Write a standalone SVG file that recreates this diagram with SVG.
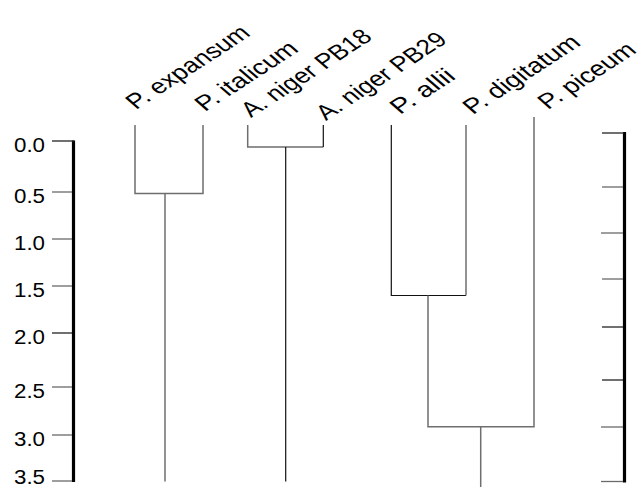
<svg xmlns="http://www.w3.org/2000/svg" width="639" height="487" viewBox="0 0 639 487">
<style>
.g{stroke:#6e6e6e;stroke-width:1.5;fill:none}
.b{stroke:#111;stroke-width:1.2;fill:none}
.ax{stroke:#000;stroke-width:3.2;fill:none}
.t{stroke:#6a6a6a;stroke-width:1.3}
.lab{font-family:"Liberation Sans",Arial,sans-serif;font-size:23.5px;fill:#000}
.num{font-family:"Liberation Sans",Arial,sans-serif;font-size:19.5px;fill:#000}
</style>
<rect width="639" height="487" fill="#fff"/>
<g id="left-axis">
<line class="ax" x1="73.5" y1="140.5" x2="73.5" y2="482"/>
<line class="t" x1="52" y1="141" x2="74" y2="141" style="stroke:#222"/>
<line class="t" x1="52" y1="192" x2="72" y2="192"/>
<line class="t" x1="52" y1="239" x2="72" y2="239"/>
<line class="t" x1="52" y1="286" x2="72" y2="286"/>
<line class="t" x1="52" y1="333" x2="72" y2="333" style="stroke:#222"/>
<line class="t" x1="52" y1="387" x2="72" y2="387"/>
<line class="t" x1="52" y1="435" x2="72" y2="435"/>
<line class="t" x1="52" y1="481" x2="72" y2="481"/>
<text class="num" x="14" y="152" textLength="31" lengthAdjust="spacingAndGlyphs">0.0</text>
<text class="num" x="14" y="203" textLength="31" lengthAdjust="spacingAndGlyphs">0.5</text>
<text class="num" x="14" y="250" textLength="31" lengthAdjust="spacingAndGlyphs">1.0</text>
<text class="num" x="14" y="297" textLength="31" lengthAdjust="spacingAndGlyphs">1.5</text>
<text class="num" x="14" y="344" textLength="31" lengthAdjust="spacingAndGlyphs">2.0</text>
<text class="num" x="14" y="398" textLength="31" lengthAdjust="spacingAndGlyphs">2.5</text>
<text class="num" x="14" y="446" textLength="31" lengthAdjust="spacingAndGlyphs">3.0</text>
<text class="num" x="14" y="484" textLength="31" lengthAdjust="spacingAndGlyphs">3.5</text>
</g>
<g id="right-axis">
<line class="ax" x1="624.5" y1="132" x2="624.5" y2="482.5"/>
<line class="t" x1="602" y1="133" x2="624" y2="133" style="stroke:#222"/>
<line class="t" x1="602" y1="187" x2="623" y2="187"/>
<line class="t" x1="601" y1="233" x2="623" y2="233"/>
<line class="t" x1="602" y1="279" x2="623" y2="279"/>
<line class="t" x1="602" y1="327" x2="623" y2="327" style="stroke:#222"/>
<line class="t" x1="602" y1="380" x2="623" y2="380" style="stroke:#222"/>
<line class="t" x1="601" y1="427" x2="623" y2="427"/>
<line class="t" x1="601" y1="481.5" x2="623" y2="481.5"/>
</g>
<g id="labels">
<text id="n-expansum" class="lab" transform="translate(136,110) rotate(-33) skewX(16)" textLength="138" lengthAdjust="spacingAndGlyphs">P. expansum</text>
<text id="n-italicum" class="lab" transform="translate(205,112) rotate(-33) skewX(16)" textLength="113" lengthAdjust="spacingAndGlyphs">P. italicum</text>
<text id="n-pb18" class="lab" transform="translate(251,118) rotate(-33) skewX(16)" textLength="146" lengthAdjust="spacingAndGlyphs">A. niger PB18</text>
<text id="n-pb29" class="lab" transform="translate(326,121) rotate(-33) skewX(16)" textLength="146" lengthAdjust="spacingAndGlyphs">A. niger PB29</text>
<text id="n-allii" class="lab" transform="translate(400,115) rotate(-33) skewX(16)" textLength="68" lengthAdjust="spacingAndGlyphs">P. allii</text>
<text id="n-digitatum" class="lab" transform="translate(473,115) rotate(-33) skewX(16)" textLength="130" lengthAdjust="spacingAndGlyphs">P. digitatum</text>
<text id="n-piceum" class="lab" transform="translate(548,110) rotate(-33) skewX(16)" textLength="107" lengthAdjust="spacingAndGlyphs">P. piceum</text>
</g>
<g id="connectors">
<polyline class="g" points="135,125 135,193.5 203,193.5 203,125"/>
<line class="g" x1="165" y1="193.5" x2="165" y2="481.5"/>
<polyline class="g" points="247.7,125 247.7,147 323.3,147"/>
<line class="b" x1="323.3" y1="125" x2="323.3" y2="147"/>
<line class="b" x1="285.7" y1="147" x2="285.7" y2="481.5"/>
<polyline class="b" points="391.3,125 391.3,295.5 466,295.5"/>
<line class="g" x1="466" y1="125" x2="466" y2="295.5"/>
<polyline class="g" points="428,295.5 428,426.7 534,426.7 534,117"/>
<line class="g" x1="480.7" y1="426.7" x2="480.7" y2="487"/>
</g>
</svg>
